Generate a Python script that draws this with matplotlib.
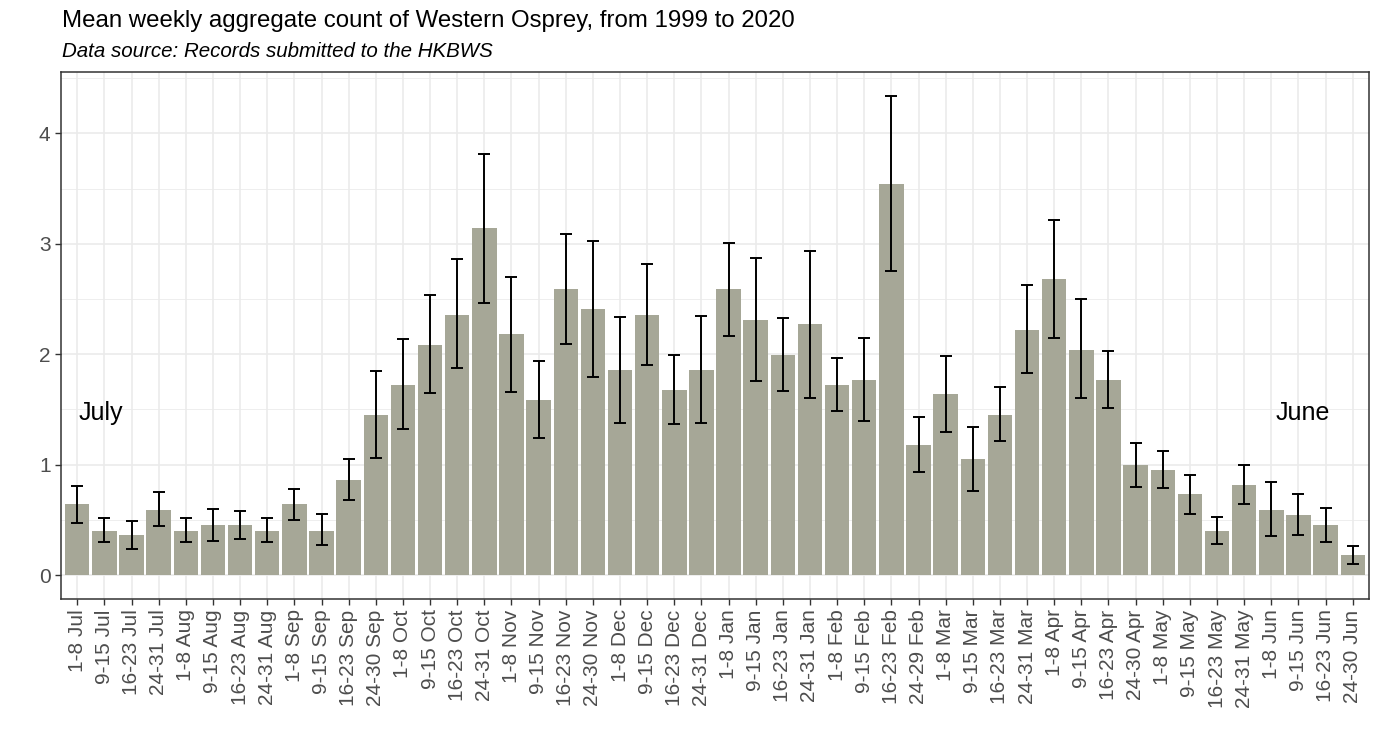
import matplotlib
matplotlib.use("Agg")
import matplotlib.pyplot as plt
import numpy as np

plt.rcParams["font.family"] = ["Liberation Sans", "DejaVu Sans"]

# Week labels, July to June
weeks = [
    "1-8 Jul", "9-15 Jul", "16-23 Jul", "24-31 Jul",
    "1-8 Aug", "9-15 Aug", "16-23 Aug", "24-31 Aug",
    "1-8 Sep", "9-15 Sep", "16-23 Sep", "24-30 Sep",
    "1-8 Oct", "9-15 Oct", "16-23 Oct", "24-31 Oct",
    "1-8 Nov", "9-15 Nov", "16-23 Nov", "24-30 Nov",
    "1-8 Dec", "9-15 Dec", "16-23 Dec", "24-31 Dec",
    "1-8 Jan", "9-15 Jan", "16-23 Jan", "24-31 Jan",
    "1-8 Feb", "9-15 Feb", "16-23 Feb", "24-29 Feb",
    "1-8 Mar", "9-15 Mar", "16-23 Mar", "24-31 Mar",
    "1-8 Apr", "9-15 Apr", "16-23 Apr", "24-30 Apr",
    "1-8 May", "9-15 May", "16-23 May", "24-31 May",
    "1-8 Jun", "9-15 Jun", "16-23 Jun", "24-30 Jun",
]

# Mean weekly count and error bar limits
mean_count = [
    0.64, 0.40, 0.36, 0.59, 0.40, 0.45, 0.45, 0.40, 0.64, 0.40, 0.86, 1.45,
    1.72, 2.08, 2.36, 3.14, 2.18, 1.59, 2.59, 2.41, 1.86, 2.36, 1.68, 1.86,
    2.59, 2.31, 1.99, 2.27, 1.72, 1.77, 3.54, 1.18, 1.64, 1.05, 1.45, 2.22,
    2.68, 2.04, 1.77, 1.00, 0.95, 0.73, 0.40, 0.82, 0.59, 0.54, 0.45, 0.18,
]
err_upper = [
    0.81, 0.52, 0.49, 0.75, 0.52, 0.60, 0.58, 0.52, 0.78, 0.55, 1.05, 1.85,
    2.14, 2.54, 2.86, 3.81, 2.70, 1.94, 3.09, 3.03, 2.34, 2.82, 1.99, 2.35,
    3.01, 2.87, 2.33, 2.94, 1.97, 2.15, 4.34, 1.43, 1.98, 1.34, 1.70, 2.63,
    3.22, 2.50, 2.03, 1.20, 1.12, 0.91, 0.53, 1.00, 0.84, 0.73, 0.61, 0.26,
]
err_lower = [
    0.47, 0.30, 0.24, 0.44, 0.30, 0.31, 0.33, 0.30, 0.50, 0.27, 0.68, 1.06,
    1.32, 1.65, 1.88, 2.46, 1.66, 1.24, 2.09, 1.79, 1.38, 1.90, 1.37, 1.38,
    2.17, 1.76, 1.67, 1.60, 1.49, 1.40, 2.75, 0.93, 1.30, 0.76, 1.21, 1.83,
    2.15, 1.60, 1.51, 0.80, 0.79, 0.55, 0.28, 0.64, 0.35, 0.36, 0.30, 0.10,
]

x = np.arange(len(weeks))
mean_count = np.array(mean_count)
yerr = [mean_count - np.array(err_lower), np.array(err_upper) - mean_count]

fig = plt.figure(figsize=(13.79, 7.52), dpi=100)
ax = fig.add_axes([61 / 1379, 1 - 599 / 752, 1308 / 1379, 527 / 752])

ax.bar(x, mean_count, width=0.9, color="#A6A797", zorder=2)
ax.errorbar(x, mean_count, yerr=yerr, fmt="none", ecolor="black",
            elinewidth=1.4, capsize=4, capthick=1.4, zorder=3)

# Month annotations
ax.text(0.87, 1.47, "July", fontsize=18, ha="center", va="center", zorder=4)
ax.text(45.15, 1.47, "June", fontsize=18, ha="center", va="center", zorder=4)

# Axis limits with ggplot-style expansion
ymax = max(err_upper)
ax.set_xlim(-0.6, len(weeks) - 0.4)
ax.set_ylim(-0.05 * ymax, ymax * 1.05)

ax.set_xticks(x)
ax.set_xticklabels(weeks, rotation=90, fontsize=15, color="#4D4D4D")
ax.set_yticks([0, 1, 2, 3, 4])
ax.set_yticks(np.arange(0.5, 4.6, 1.0), minor=True)
ax.tick_params(axis="y", which="major", labelsize=15, labelcolor="#4D4D4D",
               length=4, width=1, color="#333333")
ax.tick_params(axis="y", which="minor", length=0)
ax.tick_params(axis="x", length=4, width=1, color="#333333")

# Grid
ax.grid(which="major", color="#EBEBEB", linewidth=1.2, zorder=0)
ax.grid(which="minor", axis="y", color="#EBEBEB", linewidth=0.6, zorder=0)
ax.set_axisbelow(True)
for sp in ax.spines.values():
    sp.set_color("#333333")
    sp.set_linewidth(1.1)

# Titles
fig.text(62 / 1379, 1 - 27 / 752,
         "Mean weekly aggregate count of Western Osprey, from 1999 to 2020",
         fontsize=17.3, ha="left", va="baseline")
fig.text(62 / 1379, 1 - 57 / 752,
         "Data source: Records submitted to the HKBWS",
         fontsize=14.8, style="italic", ha="left", va="baseline")

fig.savefig("out.png", dpi=100)
